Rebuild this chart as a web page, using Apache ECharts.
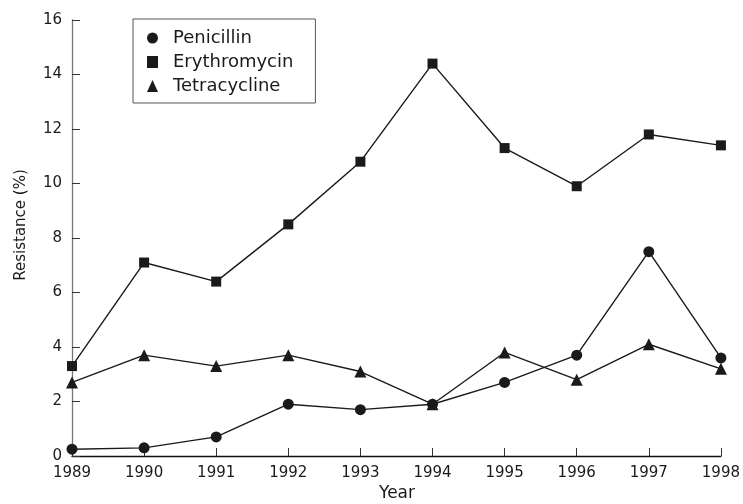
<!DOCTYPE html>
<html>
<head>
<meta charset="utf-8">
<script src="https://cdn.jsdelivr.net/npm/echarts@6/dist/echarts.min.js"></script>
<style>
  html, body { margin: 0; padding: 0; background: #fff; }
  #chart { width: 743px; height: 504px; }
</style>
</head>
<body>
<div id="chart"></div>
<script>
  var years = ['1989', '1990', '1991', '1992', '1993', '1994', '1995', '1996', '1997', '1998'];
  var penicillin   = [0.25, 0.3, 0.7, 1.9, 1.7, 1.9, 2.7, 3.7, 7.5, 3.6];
  var erythromycin = [3.3, 7.1, 6.4, 8.5, 10.8, 14.4, 11.3, 9.9, 11.8, 11.4];
  var tetracycline = [2.7, 3.7, 3.3, 3.7, 3.1, 1.9, 3.8, 2.8, 4.1, 3.2];

  var FONT = 'DejaVu Sans';
  var INK = '#1a1a1a';

  var chart = echarts.init(document.getElementById('chart'));

  function line(name, data, symbol, size) {
    return {
      name: name,
      type: 'line',
      data: data,
      symbol: symbol,
      symbolSize: size,
      showAllSymbol: true,
      lineStyle: { color: INK, width: 1.4 },
      itemStyle: { color: INK },
      emphasis: { disabled: true },
      animation: false
    };
  }

  chart.setOption({
    backgroundColor: '#fff',
    animation: false,
    grid: { left: 72, right: 20, top: 20, bottom: 48 },
    legend: {
      orient: 'vertical',
      left: 133,
      top: 19,
      padding: [10, 22, 8, 14],
      itemWidth: 11,
      itemHeight: 12,
      itemGap: 6,
      borderColor: '#555',
      borderWidth: 1,
      textStyle: { fontFamily: FONT, fontSize: 18, color: INK, padding: [0, 0, 0, 10] },
      data: [
        { name: 'Penicillin', icon: 'circle' },
        { name: 'Erythromycin', icon: 'rect' },
        { name: 'Tetracycline', icon: 'triangle' }
      ]
    },
    xAxis: {
      type: 'category',
      data: years,
      boundaryGap: false,
      axisLine: { lineStyle: { color: '#111', width: 1.3 } },
      axisTick: { inside: true, length: 8, lineStyle: { color: '#333' } },
      axisLabel: { fontFamily: FONT, fontSize: 15, color: INK, margin: 10 },
      splitLine: { show: false }
    },
    yAxis: {
      type: 'value',
      min: 0,
      max: 16,
      interval: 2,
      axisLine: { show: true, lineStyle: { color: '#777', width: 1.3 } },
      axisTick: { show: true, inside: true, length: 8, lineStyle: { color: '#333' } },
      axisLabel: { fontFamily: FONT, fontSize: 15, color: INK, margin: 10 },
      splitLine: { show: false }
    },
    graphic: [
      {
        type: 'text',
        x: 21,
        y: 225,
        rotation: Math.PI / 2,
        style: {
          text: 'Resistance (%)',
          fontFamily: FONT,
          fontSize: 15,
          fill: INK,
          align: 'center',
          verticalAlign: 'middle'
        }
      },
      {
        type: 'text',
        x: 397,
        y: 494,
        style: {
          text: 'Year',
          fontFamily: FONT,
          fontSize: 17,
          fill: INK,
          align: 'center',
          verticalAlign: 'middle'
        }
      }
    ],
    series: [
      line('Penicillin', penicillin, 'circle', 11),
      line('Erythromycin', erythromycin, 'rect', 10),
      line('Tetracycline', tetracycline, 'triangle', 12)
    ]
  });
</script>
</body>
</html>
